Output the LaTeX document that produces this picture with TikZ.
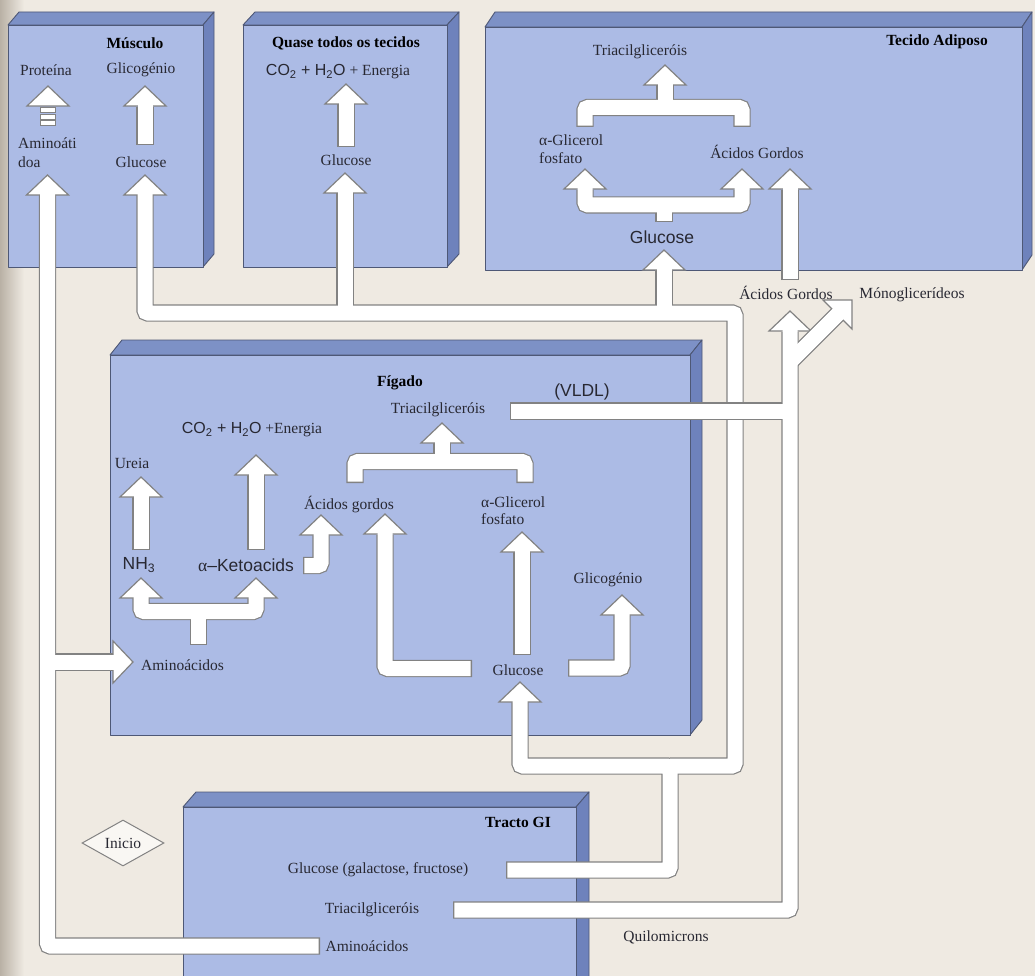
\documentclass[tikz,border=0pt]{standalone}
\usepackage{fontspec}
\setmainfont{Liberation Serif}
\setsansfont{Liberation Sans}
\usetikzlibrary{shapes.geometric}
\definecolor{bg}{RGB}{239,234,226}
\definecolor{bgdark}{RGB}{185,177,165}
\definecolor{front}{RGB}{172,187,229}
\definecolor{topf}{RGB}{125,145,198}
\definecolor{sidef}{RGB}{110,130,188}
\definecolor{edge}{RGB}{78,88,118}
\definecolor{pgray}{RGB}{130,130,130}
\definecolor{txt}{RGB}{40,40,50}
\newcommand{\organ}[6]{%
 \filldraw[boxedge, fill=topf] (#1,#2) -- (#1+#5,#2-#6) -- (#3+#5,#2-#6) -- (#3,#2) -- cycle;
 \filldraw[boxedge, fill=sidef] (#3,#2) -- (#3+#5,#2-#6) -- (#3+#5,#4-#6) -- (#3,#4) -- cycle;
 \filldraw[boxedge, fill=front] (#1,#2) rectangle (#3,#4);}
\newcommand{\hup}[2]{\filldraw[hd] (#1,#2) -- ++(21,20) -- ++(-42,0) -- cycle;}
\tikzset{
 boxedge/.style={draw=edge, line width=0.9pt, line join=round},
 po/.style={draw=pgray, line width=17.4pt, rounded corners=3pt, line cap=butt},
 pin/.style={draw=white, line width=15pt, rounded corners=3pt, line cap=butt},
 hd/.style={fill=white, draw=pgray, line width=1.2pt, line join=miter},
 lab/.style={font=\fontsize{15.5}{17.5}\selectfont, text=txt, inner sep=1pt},
 ttl/.style={font=\bfseries\fontsize{15.5}{17.5}\selectfont, text=black, inner sep=1pt},
 sns/.style={font=\sffamily\fontsize{17.5}{19.5}\selectfont, text=txt, inner sep=1pt},
}
\begin{document}
\begin{tikzpicture}[x=1pt,y=-1pt]
\useasboundingbox (0,0) rectangle (1035,976);
\clip (0,0) rectangle (1035,976);
\fill[bg] (0,0) rectangle (1035,976);
\shade[left color=bgdark, right color=bg] (0,0) rectangle (24,976);

% ---------- organ boxes ----------
\organ{8}{25}{203}{267}{11}{13}
\organ{243}{25}{447}{267}{12}{13}
\organ{485}{27}{1022}{270}{10}{15}
\organ{110}{355}{690}{735}{12}{15}
\organ{183}{807}{576}{1000}{13}{15}

% ---------- layer A : outlines ----------
% glucose network
\draw[po] (506,870) -- (670,870) -- (670,766) -- (520,766) -- (520,702);
\draw[po] (670,766) -- (735,766) -- (735,313) -- (145,313) -- (145,195);
\draw[po] (345,313) -- (345,193);
\draw[po] (664,313) -- (664,270);
% amino network
\draw[po] (320,946) -- (47.5,946) -- (47.5,195);
\draw[po] (47.5,662) -- (113,662);
% muscle
\draw[po] (145,145) -- (145,107);
% quase
\draw[po] (346,147) -- (346,104);
% adipose
\draw[po] (665,107.5) -- (665,85);
\draw[po] (585,127) -- (585,107.5) -- (742,107.5) -- (742,127);
\draw[po] (585,190) -- (585,205) -- (742,205) -- (742,190);
\draw[po] (664,222) -- (664,205);
% liver
\draw[po] (442,461.5) -- (442,443);
\draw[po] (355,483) -- (355,461.5) -- (525,461.5) -- (525,483);
\draw[po] (256,550) -- (256,475);
\draw[po] (141,550) -- (141,497);
\draw[po] (141,598) -- (141,611.5) -- (256,611.5) -- (256,598);
\draw[po] (198.5,645) -- (198.5,611.5);
\draw[po] (303,565.5) -- (321,565.5) -- (321,535);
\draw[po] (472,668.5) -- (385,668.5) -- (385,535);
\draw[po] (522,655) -- (522,552);
\draw[po] (568,668) -- (622,668) -- (622,615);

% ---------- layer A : heads ----------
\hup{520}{682}
\hup{145}{175}
\hup{345}{173}
\hup{664}{250}
\hup{47.5}{175}
\filldraw[hd] (133,662) -- ++(-20,-21) -- ++(0,42) -- cycle;
\hup{48}{86}
\hup{145}{86}
\hup{346}{84}
\hup{665}{65}
\hup{585}{169}
\hup{742}{169}
\hup{442}{423}
\hup{256}{455}
\hup{141}{477}
\hup{141}{578}
\hup{256}{578}
\hup{321}{515}
\hup{385}{514}
\hup{522}{532}
\hup{622}{595}

% ---------- layer A : white fill ----------
\draw[pin, shorten <=1.3pt] (506,870) -- (670,870) -- (670,766) -- (520,766) -- (520,699);
\draw[pin] (670,766) -- (735,766) -- (735,313) -- (145,313) -- (145,192);
\draw[pin] (345,313) -- (345,190);
\draw[pin] (664,313) -- (664,267);
\draw[pin, shorten <=1.3pt] (320,946) -- (47.5,946) -- (47.5,192);
\draw[pin] (47.5,662) -- (116,662);
\draw[pin, shorten <=1.3pt] (145,145) -- (145,104);
\draw[pin, shorten <=1.3pt] (346,147) -- (346,101);
\draw[pin] (665,107.5) -- (665,82);
\draw[pin, shorten <=1.3pt, shorten >=1.3pt] (585,127) -- (585,107.5) -- (742,107.5) -- (742,127);
\draw[pin] (585,187) -- (585,205) -- (742,205) -- (742,187);
\draw[pin, shorten <=1.3pt] (664,222) -- (664,205);
\draw[pin] (442,461.5) -- (442,440);
\draw[pin, shorten <=1.3pt, shorten >=1.3pt] (355,483) -- (355,461.5) -- (525,461.5) -- (525,483);
\draw[pin, shorten <=1.3pt] (256,550) -- (256,472);
\draw[pin, shorten <=1.3pt] (141,550) -- (141,494);
\draw[pin] (141,595) -- (141,611.5) -- (256,611.5) -- (256,595);
\draw[pin, shorten <=1.3pt] (198.5,645) -- (198.5,611.5);
\draw[pin, shorten <=1.3pt] (303,565.5) -- (321,565.5) -- (321,532);
\draw[pin, shorten <=1.3pt] (472,668.5) -- (385,668.5) -- (385,531);
\draw[pin, shorten <=1.3pt] (522,655) -- (522,549);
\draw[pin, shorten <=1.3pt] (568,668) -- (622,668) -- (622,612);
% protein stacked shaft
\foreach \yy in {108,114.5,121}
  \filldraw[fill=white, draw=pgray, line width=1pt] (40.5,\yy) rectangle (55.5,\yy+5);

% ---------- layer B : chylomicron / VLDL network ----------
\draw[po] (453,910) -- (790,910) -- (790,332);
\draw[po] (510,411) -- (790,411);
\draw[po] (790,362) -- (837.5,314.5);
\draw[po] (790,280) -- (790,190);
\hup{790}{311}
\hup{790}{169}
\filldraw[hd] (852,300) -- (823,300) -- (852,329) -- cycle;
\draw[pin, shorten <=1.3pt] (453,910) -- (790,910) -- (790,329);
\draw[pin, shorten <=1.3pt] (510,411) -- (790,411);
\draw[pin] (790,362) -- (839.6,312.4);
\draw[pin, shorten <=1.3pt] (790,280) -- (790,187);

% ---------- texts ----------
% Musculo
\node[ttl] (tmus) at (135,43) {Músculo};
\node[lab] (mprot) at (46,70) {Proteína};
\node[lab] (mglic) at (141,70) {Glicogénio};
\node[lab, anchor=west] (mamin1) at (17,143) {Aminoáti};
\node[lab, anchor=west] (mamin2) at (17,162) {doa};
\node[lab] (mgluc) at (141,162) {Glucose};
% Quase todos
\node[ttl] (tqua) at (346,43) {Quase todos os tecidos};
\node[lab] (qco2) at (338,72) {{\sffamily\fontsize{16}{18}\selectfont CO\textsubscript{2} + H\textsubscript{2}O} + Energia};
\node[lab] (qgluc) at (346,160) {Glucose};
% Adiposo
\node[ttl] (tadi) at (937,42) {Tecido Adiposo};
\node[lab] (atri) at (640,52) {Triacilgliceróis};
\node[lab, anchor=west] (agli1) at (538,140) {α-Glicerol};
\node[lab, anchor=west] (agli2) at (538,158) {fosfato};
\node[lab] (aag) at (757,152) {Ácidos Gordos};
\node[sns] (agluc) at (662,237) {Glucose};
\node[lab] (ag2) at (786,293) {Ácidos Gordos};
\node[lab] (amono) at (912,295) {Mónoglicerídeos};
% Figado
\node[ttl] (tfig) at (400,383) {Fígado};
\node[sns] (fvldl) at (582,392) {(VLDL)};
\node[lab] (ftri) at (438,410) {Triacilgliceróis};
\node[lab] (fco2) at (252,430) {{\sffamily\fontsize{16}{18}\selectfont CO\textsubscript{2} + H\textsubscript{2}O} +Energia};
\node[lab] (fure) at (132,463) {Ureia};
\node[sns] (fnh3) at (139,565) {NH\textsubscript{3}};
\node[sns] (fket) at (246,565) {{\rmfamily α}–Ketoacids};
\node[lab] (fag) at (349,505) {Ácidos gordos};
\node[lab, anchor=west] (fgli1) at (480,502) {α-Glicerol};
\node[lab, anchor=west] (fgli2) at (480,519) {fosfato};
\node[lab] (fglic) at (608,580) {Glicogénio};
\node[lab] (fgluc) at (518,670) {Glucose};
\node[lab, anchor=west] (famin) at (140,665) {Aminoácidos};
% GI
\node[ttl] (tgi) at (518,822) {Tracto GI};
\node[lab] (ggluc) at (378,870) {Glucose (galactose, fructose)};
\node[lab] (gtri) at (372,910) {Triacilgliceróis};
\node[lab] (gamin) at (367,946) {Aminoácidos};
\node[lab] (quil) at (666,937) {Quilomicrons};
\node[lab, diamond, draw=pgray, fill=white!60!bg, line width=1pt, aspect=1.8,
      minimum width=82pt, minimum height=46pt, inner sep=0pt] (inicio) at (123,843) {Inicio};
\end{tikzpicture}
\end{document}
